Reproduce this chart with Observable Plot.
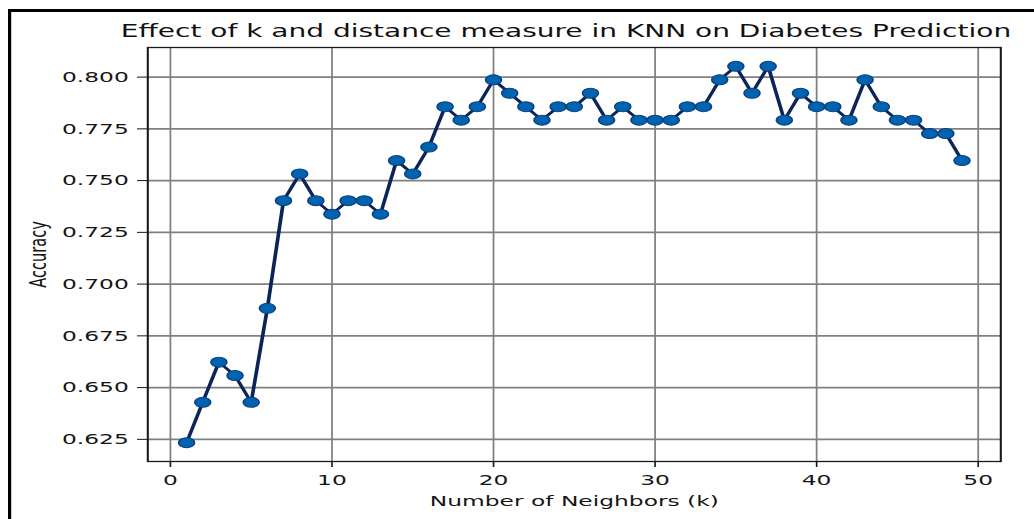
<!DOCTYPE html>
<html><head><meta charset="utf-8">
<script src="https://cdn.jsdelivr.net/npm/d3@7"></script>
<script src="https://cdn.jsdelivr.net/npm/@observablehq/plot@0.6"></script>
<style>
html,body{margin:0;padding:0;background:#fff;overflow:hidden;width:1034px;height:519px;}
#wrap{position:absolute;left:0;top:0;width:646.25px;height:519px;transform-origin:0 0;transform:scaleX(1.6);font-family:"DejaVu Sans",sans-serif;}
#border{position:absolute;left:5.4px;top:9px;width:800px;height:600px;border-top:3px solid #000;border-left:2px solid #000;}
#title{position:absolute;top:23px;left:353.75px;transform:translateX(-50%);white-space:nowrap;font-size:17.5px;line-height:17.5px;color:#111;}
#chart{position:absolute;left:0;top:40px;}
</style></head><body>
<div id="wrap"><div id="border"></div><div id="title"></div><div id="chart"></div></div>
<script>
const titleText = "Effect of k and distance measure in KNN on Diabetes Prediction";
const xLabel = "Number of Neighbors (k)";
const yLabel = "Accuracy";
const kValues = [1,2,3,4,5,6,7,8,9,10,11,12,13,14,15,16,17,18,19,20,21,22,23,24,25,26,27,28,29,30,31,32,33,34,35,36,37,38,39,40,41,42,43,44,45,46,47,48,49];
const accuracy = [0.6234,0.6429,0.6623,0.6558,0.6429,0.6883,0.7403,0.7532,0.7403,0.7338,
                  0.7403,0.7403,0.7338,0.7597,0.7532,0.7662,0.7857,0.7792,0.7857,0.7987,
                  0.7922,0.7857,0.7792,0.7857,0.7857,0.7922,0.7792,0.7857,0.7792,0.7792,
                  0.7792,0.7857,0.7857,0.7987,0.8052,0.7922,0.8052,0.7792,0.7922,0.7857,
                  0.7857,0.7792,0.7987,0.7857,0.7792,0.7792,0.7727,0.7727,0.7597];
const xTicks = [0,10,20,30,40,50];
const yTicks = [0.625,0.650,0.675,0.700,0.725,0.750,0.775,0.800];

const data = kValues.map((k, i) => ({k, acc: accuracy[i]}));
document.getElementById("title").textContent = titleText;

const S = 1.6;
const W = 1034 / S;
const chart = Plot.plot({
  width: W,
  height: 479,
  marginLeft: 147 / S,
  marginRight: W - 1000 / S,
  marginTop: 7,
  marginBottom: 58,
  style: {fontFamily: "DejaVu Sans, sans-serif", fontSize: "14.6px", color: "#151515", background: "transparent", overflow: "visible"},
  x: {domain: [-1.4, 51.4], ticks: xTicks, tickSize: 6, tickPadding: 7, tickFormat: d => String(d),
      label: xLabel, labelAnchor: "center", labelOffset: 44, labelArrow: "none"},
  y: {domain: [0.6143, 0.8143], ticks: yTicks, tickSize: 6.25, tickPadding: 5.6, tickFormat: ".3f",
      label: yLabel, labelAnchor: "center", labelOffset: 74, labelArrow: "none"},
  marks: [
    Plot.gridX(xTicks, {stroke: "#808080", strokeOpacity: 1, strokeWidth: 1.1}),
    Plot.gridY(yTicks, {stroke: "#808080", strokeOpacity: 1, strokeWidth: 1.6}),
    Plot.frame({stroke: "#1a1a1a", strokeWidth: 1.3}),
    Plot.line(data, {x: "k", y: "acc", stroke: "#0c2457", strokeWidth: 2.3}),
    Plot.dot(data, {x: "k", y: "acc", r: 5, fill: "#0063b0", stroke: "#0a3f80", strokeWidth: 1})
  ]
});
document.getElementById("chart").appendChild(chart);
</script>
</body></html>
